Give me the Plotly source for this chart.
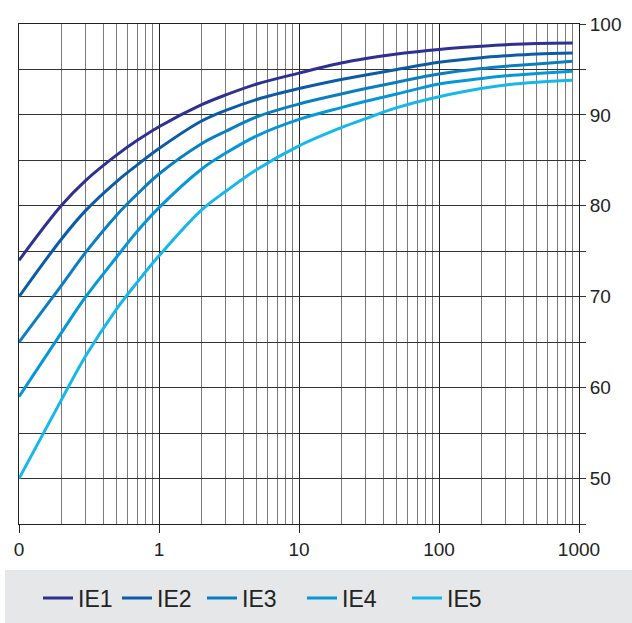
import plotly.graph_objects as go

# Data
x_vals = [0.1, 0.2, 0.3, 0.5, 0.7, 1, 2, 3, 5, 10, 20, 30, 50, 100, 200, 300, 500, 900]
ie1 = [74, 80, 82.8, 85.6, 87.2, 88.7, 91.1, 92.2, 93.4, 94.6, 95.7, 96.2, 96.7, 97.2, 97.55, 97.72, 97.85, 97.9]
ie2 = [70, 76.3, 79.5, 82.7, 84.5, 86.3, 89.3, 90.5, 91.7, 92.9, 93.9, 94.4, 95.0, 95.8, 96.3, 96.5, 96.7, 96.8]
ie3 = [65, 71.2, 74.9, 79.0, 81.3, 83.5, 86.8, 88.2, 89.8, 91.2, 92.3, 92.9, 93.6, 94.5, 95.1, 95.35, 95.6, 95.9]
ie4 = [59, 66.0, 70.0, 74.4, 77.2, 79.8, 84.0, 85.8, 87.7, 89.5, 90.8, 91.5, 92.3, 93.4, 94.0, 94.3, 94.55, 94.8]
ie5 = [50, 58.6, 63.5, 68.7, 71.6, 74.5, 79.5, 81.6, 84.0, 86.6, 88.6, 89.6, 90.8, 92.0, 92.9, 93.3, 93.6, 93.8]

series_names = ["IE1", "IE2", "IE3", "IE4", "IE5"]
series_values = [ie1, ie2, ie3, ie4, ie5]
colors = ["#2e3192", "#0b5ca8", "#0a7ec2", "#0597d8", "#16b8ec"]

x_tickvals = [0.1, 1, 10, 100, 1000]
x_ticktext = ["0", "1", "10", "100", "1000"]
x_minor = [m * 10 ** e for e in (-1, 0, 1, 2) for m in range(2, 10)]
y_tickvals = [50, 60, 70, 80, 90, 100]

# pixel geometry helpers
W, H = 632, 623
L, R, T, B = 19, 579, 23.5, 524
def px_x(p):
    return (p - L) / (R - L)
def px_y(p):
    return (B - p) / (B - T)

legend_line_starts = [43, 122, 207, 307, 412]

fig = go.Figure()
for i, (name, vals, col) in enumerate(zip(series_names, series_values, colors)):
    lg = "legend" if i == 0 else f"legend{i+1}"
    fig.add_trace(go.Scatter(
        x=x_vals, y=vals, mode="lines", name=name,
        line=dict(color=col, width=3, shape="spline", smoothing=1.0),
        legend=lg, showlegend=True,
    ))

legends = {}
for i, start in enumerate(legend_line_starts):
    key = "legend" if i == 0 else f"legend{i+1}"
    legends[key] = dict(
        x=px_x(start - 5), xanchor="left",
        y=px_y(598), yanchor="middle",
        bgcolor="rgba(0,0,0,0)", borderwidth=0,
        font=dict(size=23, color="#222222", family="Liberation Sans, Arial, sans-serif"),
        orientation="h", tracegroupgap=0,
    )

fig.update_layout(
    width=W, height=H,
    margin=dict(l=L, r=W - R, t=T, b=H - B, pad=0, autoexpand=False),
    paper_bgcolor="white", plot_bgcolor="white",
    font=dict(family="Liberation Sans, Arial, sans-serif", color="#222222", size=19),
    shapes=[dict(type="rect", xref="paper", yref="paper",
                 x0=px_x(5), x1=px_x(640), y0=px_y(570), y1=px_y(630),
                 fillcolor="#e6e7e9", line=dict(width=0), layer="below")],
    **legends,
)

fig.update_xaxes(
    type="log", range=[-1, 3], automargin=False,
    tickmode="array", tickvals=x_tickvals, ticktext=x_ticktext,
    showgrid=True, gridcolor="#222222", gridwidth=1,
    ticks="outside", ticklen=8, tickcolor="#222222", tickwidth=1,
    showline=True, mirror=True, linecolor="#222222", linewidth=1,
    zeroline=False,
    tickfont=dict(size=19, color="#222222"),
    minor=dict(tickvals=x_minor, showgrid=True, gridcolor="#7a7a7a", gridwidth=1, ticks=""),
)
fig.update_yaxes(
    range=[45, 100], side="right", automargin=False,
    tickmode="array", tickvals=y_tickvals,
    showgrid=True, gridcolor="#333333", gridwidth=1,
    ticks="outside", ticklen=6, tickcolor="#333333",
    showline=True, mirror=True, linecolor="#222222", linewidth=1,
    zeroline=False,
    tickfont=dict(size=19, color="#222222"),
    minor=dict(dtick=5, tick0=45, showgrid=True, gridcolor="#333333", gridwidth=1,
               ticks="outside", ticklen=6, tickcolor="#333333"),
)

fig.write_html(
    "out.html",
    config={"displayModeBar": False},
    post_script="document.body.style.margin='0px';document.body.style.overflow='hidden';",
)
